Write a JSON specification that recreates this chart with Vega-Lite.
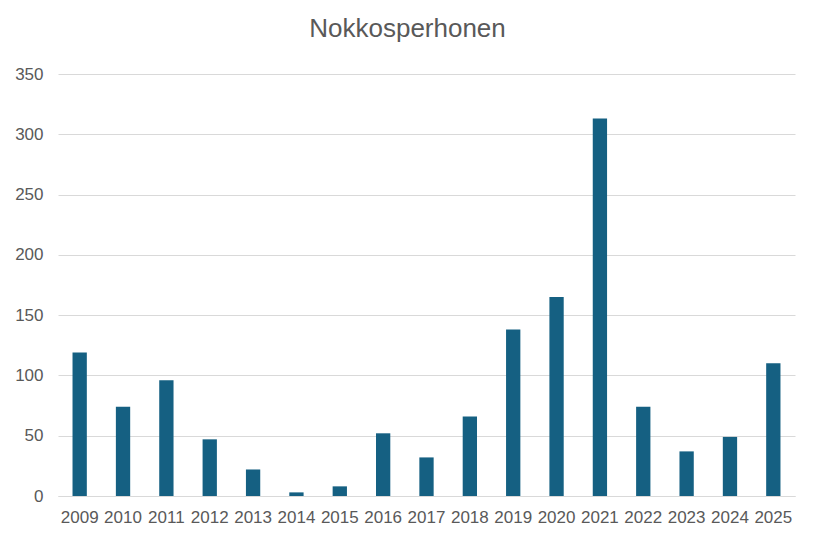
{
  "$schema": "https://vega.github.io/schema/vega-lite/v6.json",
  "width": 737,
  "height": 422,
  "autosize": {"type": "none"},
  "padding": {"left": 58, "top": 74, "right": 19, "bottom": 48},
  "background": "white",
  "title": {
    "text": "Nokkosperhonen",
    "fontSize": 26,
    "font": "Liberation Sans",
    "fontWeight": "normal",
    "color": "#595959",
    "anchor": "middle",
    "dx": -19,
    "offset": 23
  },
  "data": {
    "values": [
      {"year": "2009", "count": 119},
      {"year": "2010", "count": 74},
      {"year": "2011", "count": 96},
      {"year": "2012", "count": 47},
      {"year": "2013", "count": 22},
      {"year": "2014", "count": 3},
      {"year": "2015", "count": 8},
      {"year": "2016", "count": 52},
      {"year": "2017", "count": 32},
      {"year": "2018", "count": 66},
      {"year": "2019", "count": 138},
      {"year": "2020", "count": 165},
      {"year": "2021", "count": 313},
      {"year": "2022", "count": 74},
      {"year": "2023", "count": 37},
      {"year": "2024", "count": 49},
      {"year": "2025", "count": 110}
    ]
  },
  "mark": {"type": "bar", "color": "#156082"},
  "encoding": {
    "x": {
      "field": "year",
      "type": "ordinal",
      "scale": {"paddingInner": 0.67, "paddingOuter": 0.335},
      "axis": {
        "title": null,
        "labelAngle": 0,
        "ticks": false,
        "domain": true,
        "domainColor": "#d9d9d9",
        "labelFont": "Liberation Sans",
        "labelFontSize": 17,
        "labelColor": "#595959",
        "labelPadding": 13
      }
    },
    "y": {
      "field": "count",
      "type": "quantitative",
      "scale": {"domain": [0, 350], "nice": false},
      "axis": {
        "title": null,
        "values": [0, 50, 100, 150, 200, 250, 300, 350],
        "ticks": false,
        "domain": false,
        "gridColor": "#d9d9d9",
        "labelFont": "Liberation Sans",
        "labelFontSize": 17,
        "labelColor": "#595959",
        "labelPadding": 15
      }
    }
  },
  "config": {"view": {"stroke": null}}
}
